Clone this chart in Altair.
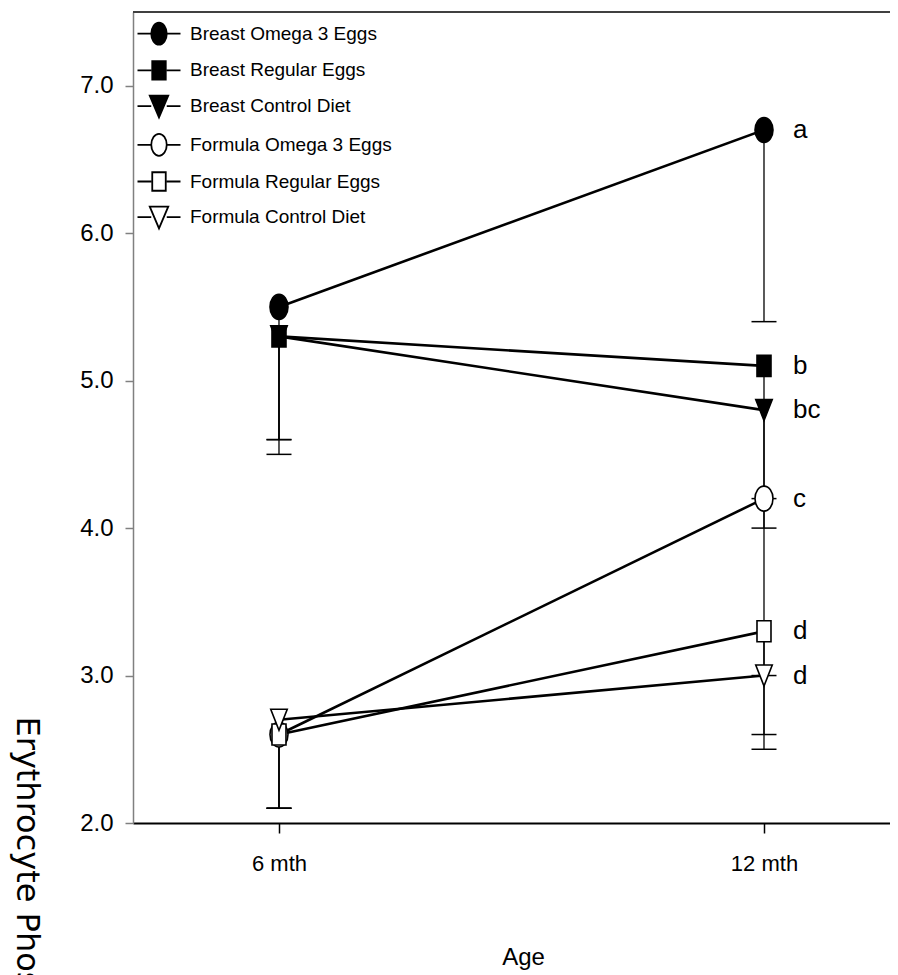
import altair as alt
import pandas as pd
import json

# ---------------- data ----------------
series = ["Breast Omega 3 Eggs", "Breast Regular Eggs", "Breast Control Diet",
          "Formula Omega 3 Eggs", "Formula Regular Eggs", "Formula Control Diet"]
ages = ["6 mth", "12 mth"]
mean_6 = [5.5, 5.3, 5.3, 2.6, 2.6, 2.7]
mean_12 = [6.7, 5.1, 4.8, 4.2, 3.3, 3.0]
low_6 = [4.6, 4.5, 4.6, 2.1, 2.1, 2.1]
low_12 = [5.4, 4.2, 4.0, 2.6, 3.0, 2.5]
letters_12 = ["a", "b", "bc", "c", "d", "d"]
fills = ["black", "black", "black", "white", "white", "white"]
strokes = ["black"] * 6
y_ticks = [2.0, 3.0, 4.0, 5.0, 6.0, 7.0]
y_domain = [2.0, 7.5]
x_domain = [-0.301, 1.2598]

# ---------------- marker shapes (custom paths) ----------------
ELL = "M0,-1A0.72,1 0 1,1 0,1A0.72,1 0 1,1 0,-1Z"
SQR = "M-0.56,-0.84H0.56V0.84H-0.56Z"
TRI = "M-0.66,-0.84H0.66L0,0.84Z"
plot_shapes = [ELL, SQR, TRI, ELL, SQR, TRI]

SEG = "M-1.72,0H-0.62M0.62,0H1.72"
L_ELL = SEG + "M0,-0.88A0.62,0.88 0 1,1 0,0.88A0.62,0.88 0 1,1 0,-0.88Z"
L_SQR = SEG + "M-0.54,-0.74H0.54V0.74H-0.54Z"
L_TRI = SEG + "M-0.74,-0.84H0.74L0,0.9Z"
legend_shapes = [L_ELL, L_SQR, L_TRI, L_ELL, L_SQR, L_TRI]

rows = []
for i, s in enumerate(series):
    vals = [(mean_6[i], low_6[i]), (mean_12[i], low_12[i])]
    for j, (m, lo) in enumerate(vals):
        rows.append(dict(series=s, order=i, age=j, mean=m, low=lo,
                         fill=fills[i], letter=letters_12[i] if j == 1 else ""))
df = pd.DataFrame(rows)

FONT = "Liberation Sans, Arial, sans-serif"

x_enc = alt.X("age:Q",
              scale=alt.Scale(domain=x_domain, nice=False, zero=False),
              axis=alt.Axis(values=[0, 1],
                            labelExpr=json.dumps(ages) + "[datum.value]",
                            title="Age", grid=False,
                            domainColor="black", domainWidth=2,
                            tickColor="black", tickSize=10, tickWidth=1.5,
                            labelFont=FONT, labelFontSize=22, labelColor="black",
                            labelPadding=20,
                            titleFont=FONT, titleFontSize=24, titleFontWeight="normal",
                            titleColor="black", titleX=390, titleY=141,
                            titleBaseline="alphabetic", titleAlign="center"))
y_enc = alt.Y("mean:Q",
              scale=alt.Scale(domain=y_domain, nice=False, zero=False),
              axis=alt.Axis(values=y_ticks, format=".1f", grid=False,
                            title="Erythrocyte Phospholipid DHA (%)",
                            domainColor="#808080", domainWidth=1.5,
                            tickColor="#808080", tickSize=8, tickWidth=1.5,
                            labelFont=FONT, labelFontSize=24, labelColor="black",
                            labelPadding=12,
                            titleFont="DejaVu Sans", titleFontSize=32,
                            titleFontWeight="normal", titleColor="black",
                            titleAngle=90, titleAlign="left",
                            titleBaseline="alphabetic", titleX=-117, titleY=704))

base = alt.Chart(df)

frame_top = alt.Chart(pd.DataFrame({"k": [0]})).mark_rule(
    color="#404040", strokeWidth=2).encode(
    x=alt.datum(x_domain[0]), x2=alt.datum(x_domain[1]), y=alt.datum(y_domain[1]))

err = base.mark_rule(color="black", strokeWidth=1.3).encode(
    x=x_enc, y=y_enc, y2="low:Q")

caps = base.mark_rule(color="black", strokeWidth=1.5, xOffset=-12.5, x2Offset=12.5).encode(
    x=x_enc, x2="age:Q", y="low:Q")

lines = base.mark_line(color="black", strokeWidth=2.6).encode(
    x=x_enc, y=y_enc, detail="series:N", order="age:Q")

points = base.mark_point(size=625, opacity=1, stroke="black", strokeWidth=1.6,
                         filled=False).encode(
    x=x_enc, y=y_enc,
    shape=alt.Shape("series:N", scale=alt.Scale(domain=series, range=plot_shapes),
                    legend=None),
    fill=alt.Fill("fill:N", scale=None))

leg = alt.Legend(title=None, orient="none", legendX=12.5, legendY=8.2,
                 labelFont=FONT, labelFontSize=19, labelColor="black",
                 labelLimit=400, symbolSize=625, symbolStrokeColor="black",
                 symbolStrokeWidth=1.8, symbolOpacity=1, rowPadding=7.7,
                 labelOffset=17.5, symbolOffset=0, padding=0)

legend_layer = base.mark_point(size=625, opacity=0, strokeWidth=1.8,
                               filled=False).encode(
    x=x_enc, y=y_enc,
    shape=alt.Shape("series:N", scale=alt.Scale(domain=series, range=legend_shapes),
                    legend=leg),
    fill=alt.Fill("series:N", scale=alt.Scale(domain=series, range=fills), legend=leg),
    stroke=alt.Stroke("series:N", scale=alt.Scale(domain=series, range=strokes),
                      legend=leg))

letters = base.transform_filter("datum.age == 1").mark_text(
    align="left", baseline="middle", dx=29, font=FONT, fontSize=26,
    color="black").encode(x=x_enc, y=y_enc, text="letter:N")

chart = alt.layer(frame_top, err, caps, lines, legend_layer, points, letters).resolve_scale(
    shape="independent", fill="independent", stroke="independent"
).properties(
    width=757, height=811,
    padding={"left": 125, "top": 4, "right": 0, "bottom": 152},
    autosize="none"
).configure_view(stroke=None)

chart.save("out.html", embed_options={"renderer": "svg", "actions": False})
